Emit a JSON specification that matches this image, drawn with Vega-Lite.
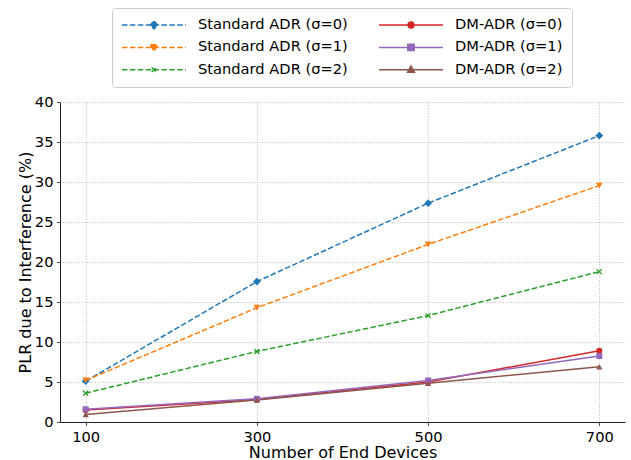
{
  "$schema": "https://vega.github.io/schema/vega-lite/v6.json",
  "width": 565,
  "height": 320,
  "autosize": {"type": "none"},
  "padding": {"left": 60, "top": 102, "right": 6, "bottom": 38},
  "background": "white",
  "config": {
    "font": "DejaVu Sans",
    "view": {"stroke": null},
    "axis": {
      "labelFont": "DejaVu Sans",
      "titleFont": "DejaVu Sans",
      "labelFontSize": 14.67,
      "titleFontSize": 16,
      "titleFontWeight": "normal",
      "labelColor": "#000",
      "titleColor": "#000",
      "domainColor": "#222",
      "domainWidth": 1,
      "tickColor": "#222",
      "tickSize": 3.5,
      "tickWidth": 0.8,
      "labelPadding": 3.5,
      "gridColor": "#b0b0b0",
      "gridDash": [1, 1.65],
      "gridWidth": 0.8,
      "gridOpacity": 1
    },
    "legend": {
      "labelFont": "DejaVu Sans",
      "labelFontSize": 14.67,
      "labelColor": "#000"
    }
  },
  "data": {
    "values": [
      {"n": 100, "series": "Standard ADR (σ=0)", "plr": 5.1},
      {"n": 300, "series": "Standard ADR (σ=0)", "plr": 17.55},
      {"n": 500, "series": "Standard ADR (σ=0)", "plr": 27.35},
      {"n": 700, "series": "Standard ADR (σ=0)", "plr": 35.8},
      {"n": 100, "series": "Standard ADR (σ=1)", "plr": 5.2},
      {"n": 300, "series": "Standard ADR (σ=1)", "plr": 14.28},
      {"n": 500, "series": "Standard ADR (σ=1)", "plr": 22.2},
      {"n": 700, "series": "Standard ADR (σ=1)", "plr": 29.55},
      {"n": 100, "series": "Standard ADR (σ=2)", "plr": 3.6},
      {"n": 300, "series": "Standard ADR (σ=2)", "plr": 8.82},
      {"n": 500, "series": "Standard ADR (σ=2)", "plr": 13.3},
      {"n": 700, "series": "Standard ADR (σ=2)", "plr": 18.8},
      {"n": 100, "series": "DM-ADR (σ=0)", "plr": 1.5},
      {"n": 300, "series": "DM-ADR (σ=0)", "plr": 2.8},
      {"n": 500, "series": "DM-ADR (σ=0)", "plr": 5.0},
      {"n": 700, "series": "DM-ADR (σ=0)", "plr": 8.9},
      {"n": 100, "series": "DM-ADR (σ=1)", "plr": 1.6},
      {"n": 300, "series": "DM-ADR (σ=1)", "plr": 2.9},
      {"n": 500, "series": "DM-ADR (σ=1)", "plr": 5.2},
      {"n": 700, "series": "DM-ADR (σ=1)", "plr": 8.25},
      {"n": 100, "series": "DM-ADR (σ=2)", "plr": 0.95},
      {"n": 300, "series": "DM-ADR (σ=2)", "plr": 2.75},
      {"n": 500, "series": "DM-ADR (σ=2)", "plr": 4.85},
      {"n": 700, "series": "DM-ADR (σ=2)", "plr": 6.9}
    ]
  },
  "encoding": {
    "x": {
      "field": "n",
      "type": "quantitative",
      "scale": {"domain": [70, 730], "nice": false, "zero": false},
      "axis": {"values": [100, 300, 500, 700], "title": "Number of End Devices", "titlePadding": 1}
    },
    "y": {
      "field": "plr",
      "type": "quantitative",
      "scale": {"domain": [0, 40], "nice": false},
      "axis": {"values": [0, 5, 10, 15, 20, 25, 30, 35, 40], "title": "PLR due to Interference (%)", "titlePadding": 1}
    },
    "color": {"field": "series", "type": "nominal"}
  },
  "layer": [
    {
      "transform": [{"filter": {"field": "series", "oneOf": ["Standard ADR (σ=0)", "Standard ADR (σ=1)", "Standard ADR (σ=2)"]}}],
      "mark": {"type": "line", "strokeWidth": 1.5, "strokeDash": [5.5, 2.4]},
      "encoding": {
        "color": {
          "field": "series",
          "type": "nominal",
          "scale": {
            "domain": ["Standard ADR (σ=0)", "DM-ADR (σ=0)", "Standard ADR (σ=1)", "DM-ADR (σ=1)", "Standard ADR (σ=2)", "DM-ADR (σ=2)"],
            "range": ["#1f77b4", "#d62728", "#ff7f0e", "#9467bd", "#2ca02c", "#8c564b"]
          },
          "legend": {
            "title": null,
            "orient": "none",
            "legendX": 52,
            "legendY": -94,
            "columns": 2,
            "direction": "horizontal",
            "columnPadding": 30,
            "rowPadding": 6.4,
            "padding": 9,
            "symbolSize": 4096,
            "clipHeight": 16,
            "labelOffset": 11,
            "labelLimit": 300,
            "labelFontSize": 14.67,
            "labelFont": "DejaVu Sans",
            "strokeColor": "#cccccc",
            "cornerRadius": 3,
            "fillColor": "white",
            "symbolStrokeWidth": 1.5,
            "encode": {
              "symbols": {
                "update": {
                  "shape": {"signal": "datum.value === 'Standard ADR (σ=0)' ? 'M-1,0L1,0M0,-0.12L0.12,0L0,0.12L-0.12,0Z' : datum.value === 'Standard ADR (σ=1)' ? 'M-1,0L1,0M-0.11,-0.08L0.11,-0.08L0,0.12Z' : datum.value === 'Standard ADR (σ=2)' ? 'M-1,0L1,0M-0.07,-0.07L0.07,0.07M-0.07,0.07L0.07,-0.07' : datum.value === 'DM-ADR (σ=0)' ? 'M-1,0L1,0M0.1,0L0.071,0.071L0,0.1L-0.071,0.071L-0.1,0L-0.071,-0.071L0,-0.1L0.071,-0.071Z' : datum.value === 'DM-ADR (σ=1)' ? 'M-1,0L1,0M-0.1,-0.1L0.1,-0.1L0.1,0.1L-0.1,0.1Z' : 'M-1,0L1,0M-0.11,0.08L0.11,0.08L0,-0.12Z'"},
                  "fill": {"scale": "color", "field": "value"},
                  "stroke": {"scale": "color", "field": "value"},
                  "strokeWidth": {"value": 1.5},
                  "strokeDash": {"signal": "indexof(datum.value, 'Standard') === 0 ? [5.5, 2.4] : [1, 0]"},
                  "opacity": {"value": 1}
                }
              }
            }
          }
        }
      }
    },
    {
      "transform": [{"filter": {"field": "series", "oneOf": ["DM-ADR (σ=0)", "DM-ADR (σ=1)", "DM-ADR (σ=2)"]}}],
      "mark": {"type": "line", "strokeWidth": 1.5}
    },
    {
      "transform": [{"filter": {"field": "series", "equal": "Standard ADR (σ=0)"}}],
      "mark": {"type": "point", "filled": true, "opacity": 1, "shape": "diamond", "size": 60}
    },
    {
      "transform": [{"filter": {"field": "series", "equal": "Standard ADR (σ=1)"}}],
      "mark": {"type": "point", "filled": true, "opacity": 1, "shape": "triangle-down", "size": 45}
    },
    {
      "transform": [{"filter": {"field": "series", "equal": "Standard ADR (σ=2)"}}],
      "mark": {"type": "point", "filled": false, "opacity": 1, "shape": "M-1,-1L1,1M-1,1L1,-1", "size": 25, "strokeWidth": 1.3}
    },
    {
      "transform": [{"filter": {"field": "series", "equal": "DM-ADR (σ=0)"}}],
      "mark": {"type": "point", "filled": true, "opacity": 1, "shape": "circle", "size": 38}
    },
    {
      "transform": [{"filter": {"field": "series", "equal": "DM-ADR (σ=1)"}}],
      "mark": {"type": "point", "filled": true, "opacity": 1, "shape": "square", "size": 36}
    },
    {
      "transform": [{"filter": {"field": "series", "equal": "DM-ADR (σ=2)"}}],
      "mark": {"type": "point", "filled": true, "opacity": 1, "shape": "triangle-up", "size": 40}
    }
  ]
}
